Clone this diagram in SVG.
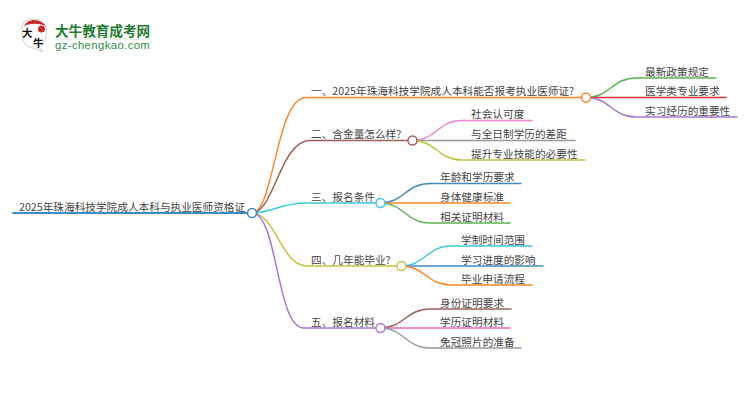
<svg xmlns="http://www.w3.org/2000/svg" width="750" height="410" viewBox="0 0 750 410">
<style>
text{font-family:"Noto Sans CJK SC","Liberation Sans",sans-serif;font-size:10.67px;fill:#444}
.l{fill:none;stroke-width:1.5;stroke-linecap:round}
.n{fill:#fff;stroke-width:1.5}
</style>
<rect width="750" height="410" fill="#fff"/>
<g id="logo">
<path d="M24 22C30 17 42 18 46 27C48 37 44 44 39 46L43 52L33 48C26 47 23 43 22 35C22 29 22 25 24 22Z" fill="#fff" stroke="#ccc" stroke-width="1"/>
<path d="M24 26C28 18 40 18 46 26C38 23 31 23 24 26Z" fill="#c9282d"/>
<circle cx="41.500" cy="29" r="3.500" fill="#c9282d"/>
<text x="22" y="37" style="font-size:10.500px;font-weight:700;fill:#111">大</text>
<text x="33" y="46.500" style="font-size:10.500px;font-weight:700;fill:#111">牛</text>
<text x="55" y="35.500" style="font-size:13.600px;font-weight:700;fill:#1f7d32">大牛教育成考网</text>
<rect x="55" y="38.500" width="95" height="1" fill="#dfe8df"/>
<text x="55" y="48.500" style="font-family:'Liberation Sans',sans-serif;font-size:11.300px;letter-spacing:.4px;fill:#2e8b46">gz-chengkao.com</text>
</g>
<g id="connectors">
<path class="l" style="stroke:#3f8bc4;stroke-width:2" d="M13 213H252"/>
<path class="l" style="stroke:#f9882b" d="M252 213C274 213 276 97.500 306 97.500H586"/>
<path class="l" style="stroke:#9c6255" d="M252 213C274 213 280 140.500 310 140.500H412"/>
<path class="l" style="stroke:#3cc8dc" d="M252 213C272 213 280 203 306 203H380"/>
<path class="l" style="stroke:#c4c23e" d="M252 213C276 213 280 266 308 266H401"/>
<path class="l" style="stroke:#a678d6" d="M252 213C278 213 276 328 304 328H380"/>
<path class="l" style="stroke:#5ab552" d="M586 97.500C610 97.500 612 78 636 78H716"/>
<path class="l" style="stroke:#e0323c" d="M586 97.500H726"/>
<path class="l" style="stroke:#a678d6" d="M586 97.500C610 97.500 612 117 636 117H737"/>
<path class="l" style="stroke:#ec82d0" d="M412 140.500C436 140.500 438 120.500 462 120.500H532"/>
<path class="l" style="stroke:#999" d="M412 140.500H575"/>
<path class="l" style="stroke:#c4c23e" d="M412 140.500C436 140.500 438 160 462 160H585"/>
<path class="l" style="stroke:#3f8bc4" d="M380 203C404 203 406 183.500 430 183.500H521"/>
<path class="l" style="stroke:#f9882b" d="M380 203H510"/>
<path class="l" style="stroke:#5ab552" d="M380 203C404 203 406 223 430 223H510"/>
<path class="l" style="stroke:#3cc8dc" d="M401 266C425 266 427 246 451 246H532"/>
<path class="l" style="stroke:#3f8bc4" d="M401 266H543"/>
<path class="l" style="stroke:#f9882b" d="M401 266C425 266 427 285 451 285H532"/>
<path class="l" style="stroke:#9c6255" d="M380 328C404 328 406 309 430 309H511"/>
<path class="l" style="stroke:#e868c4" d="M380 328H510"/>
<path class="l" style="stroke:#999" d="M380 328C404 328 406 348 430 348H521"/>
</g>
<g id="root"><text x="19" y="211">2025年珠海科技学院成人本科与执业医师资格证</text><circle class="n" style="stroke:#3f8bc4" cx="252" cy="213" r="4.500"/></g>
<g id="b1"><text x="311" y="95">一、2025年珠海科技学院成人本科能否报考执业医师证?</text><circle class="n" style="stroke:#f9882b" cx="586" cy="97.500" r="4.500"/></g>
<g id="b2"><text x="311" y="138">二、含金量怎么样?</text><circle class="n" style="stroke:#9c6255" cx="412.500" cy="140.500" r="4.500"/></g>
<g id="b3"><text x="311" y="200.500">三、报名条件</text><circle class="n" style="stroke:#3cc8dc" cx="380.500" cy="203" r="4.500"/></g>
<g id="b4"><text x="311" y="263.500">四、几年能毕业?</text><circle class="n" style="stroke:#c4c23e" cx="401.500" cy="266" r="4.500"/></g>
<g id="b5"><text x="311" y="325.500">五、报名材料</text><circle class="n" style="stroke:#a678d6" cx="380.500" cy="328" r="4.500"/></g>
<g id="l11"><text x="645" y="75.500">最新政策规定</text></g>
<g id="l12"><text x="645" y="95">医学类专业要求</text></g>
<g id="l13"><text x="645" y="114.500">实习经历的重要性</text></g>
<g id="l21"><text x="471" y="118">社会认可度</text></g>
<g id="l22"><text x="471" y="138">与全日制学历的差距</text></g>
<g id="l23"><text x="471" y="157.500">提升专业技能的必要性</text></g>
<g id="l31"><text x="440" y="181">年龄和学历要求</text></g>
<g id="l32"><text x="440" y="200.500">身体健康标准</text></g>
<g id="l33"><text x="440" y="220.500">相关证明材料</text></g>
<g id="l41"><text x="461" y="243.500">学制时间范围</text></g>
<g id="l42"><text x="461" y="263.500">学习进度的影响</text></g>
<g id="l43"><text x="461" y="282.500">毕业申请流程</text></g>
<g id="l51"><text x="440" y="306.500">身份证明要求</text></g>
<g id="l52"><text x="440" y="325.500">学历证明材料</text></g>
<g id="l53"><text x="440" y="345.500">免冠照片的准备</text></g>
</svg>
